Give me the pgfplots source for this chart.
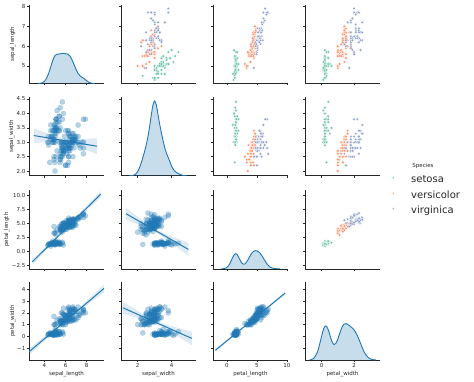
\documentclass[border=0pt]{standalone}
\usepackage{fontspec}
\setmainfont{DejaVu Sans}
\usepackage{pgfplots}
\usepackage{pgfplotstable}
\pgfplotsset{compat=1.18}
\definecolor{c0}{HTML}{1F77B4}
\definecolor{cset}{HTML}{66C2A5}
\definecolor{cver}{HTML}{FC8D62}
\definecolor{cvir}{HTML}{8DA0CB}
\definecolor{spine}{HTML}{262626}

\pgfplotstableread{
SL SW PL PW
5.1 3.5 1.4 0.2
4.9 3.0 1.4 0.2
4.7 3.2 1.3 0.2
4.6 3.1 1.5 0.2
5.0 3.6 1.4 0.2
5.4 3.9 1.7 0.4
4.6 3.4 1.4 0.3
5.0 3.4 1.5 0.2
4.4 2.9 1.4 0.2
4.9 3.1 1.5 0.1
5.4 3.7 1.5 0.2
4.8 3.4 1.6 0.2
4.8 3.0 1.4 0.1
4.3 3.0 1.1 0.1
5.8 4.0 1.2 0.2
5.7 4.4 1.5 0.4
5.4 3.9 1.3 0.4
5.1 3.5 1.4 0.3
5.7 3.8 1.7 0.3
5.1 3.8 1.5 0.3
5.4 3.4 1.7 0.2
5.1 3.7 1.5 0.4
4.6 3.6 1.0 0.2
5.1 3.3 1.7 0.5
4.8 3.4 1.9 0.2
5.0 3.0 1.6 0.2
5.0 3.4 1.6 0.4
5.2 3.5 1.5 0.2
5.2 3.4 1.4 0.2
4.7 3.2 1.6 0.2
4.8 3.1 1.6 0.2
5.4 3.4 1.5 0.4
5.2 4.1 1.5 0.1
5.5 4.2 1.4 0.2
4.9 3.1 1.5 0.2
5.0 3.2 1.2 0.2
5.5 3.5 1.3 0.2
4.9 3.6 1.4 0.1
4.4 3.0 1.3 0.2
5.1 3.4 1.5 0.2
5.0 3.5 1.3 0.3
4.5 2.3 1.3 0.3
4.4 3.2 1.3 0.2
5.0 3.5 1.6 0.6
5.1 3.8 1.9 0.4
4.8 3.0 1.4 0.3
5.1 3.8 1.6 0.2
4.6 3.2 1.4 0.2
5.3 3.7 1.5 0.2
5.0 3.3 1.4 0.2
}\setosa

\pgfplotstableread{
SL SW PL PW
7.0 3.2 4.7 1.4
6.4 3.2 4.5 1.5
6.9 3.1 4.9 1.5
5.5 2.3 4.0 1.3
6.5 2.8 4.6 1.5
5.7 2.8 4.5 1.3
6.3 3.3 4.7 1.6
4.9 2.4 3.3 1.0
6.6 2.9 4.6 1.3
5.2 2.7 3.9 1.4
5.0 2.0 3.5 1.0
5.9 3.0 4.2 1.5
6.0 2.2 4.0 1.0
6.1 2.9 4.7 1.4
5.6 2.9 3.6 1.3
6.7 3.1 4.4 1.4
5.6 3.0 4.5 1.5
5.8 2.7 4.1 1.0
6.2 2.2 4.5 1.5
5.6 2.5 3.9 1.1
5.9 3.2 4.8 1.8
6.1 2.8 4.0 1.3
6.3 2.5 4.9 1.5
6.1 2.8 4.7 1.2
6.4 2.9 4.3 1.3
6.6 3.0 4.4 1.4
6.8 2.8 4.8 1.4
6.7 3.0 5.0 1.7
6.0 2.9 4.5 1.5
5.7 2.6 3.5 1.0
5.5 2.4 3.8 1.1
5.5 2.4 3.7 1.0
5.8 2.7 3.9 1.2
6.0 2.7 5.1 1.6
5.4 3.0 4.5 1.5
6.0 3.4 4.5 1.6
6.7 3.1 4.7 1.5
6.3 2.3 4.4 1.3
5.6 3.0 4.1 1.3
5.5 2.5 4.0 1.3
5.5 2.6 4.4 1.2
6.1 3.0 4.6 1.4
5.8 2.6 4.0 1.2
5.0 2.3 3.3 1.0
5.6 2.7 4.2 1.3
5.7 3.0 4.2 1.2
5.7 2.9 4.2 1.3
6.2 2.9 4.3 1.3
5.1 2.5 3.0 1.1
5.7 2.8 4.1 1.3
}\versicolor

\pgfplotstableread{
SL SW PL PW
6.3 3.3 6.0 2.5
5.8 2.7 5.1 1.9
7.1 3.0 5.9 2.1
6.3 2.9 5.6 1.8
6.5 3.0 5.8 2.2
7.6 3.0 6.6 2.1
4.9 2.5 4.5 1.7
7.3 2.9 6.3 1.8
6.7 2.5 5.8 1.8
7.2 3.6 6.1 2.5
6.5 3.2 5.1 2.0
6.4 2.7 5.3 1.9
6.8 3.0 5.5 2.1
5.7 2.5 5.0 2.0
5.8 2.8 5.1 2.4
6.4 3.2 5.3 2.3
6.5 3.0 5.5 1.8
7.7 3.8 6.7 2.2
7.7 2.6 6.9 2.3
6.0 2.2 5.0 1.5
6.9 3.2 5.7 2.3
5.6 2.8 4.9 2.0
7.7 2.8 6.7 2.0
6.3 2.7 4.9 1.8
6.7 3.3 5.7 2.1
7.2 3.2 6.0 1.8
6.2 2.8 4.8 1.8
6.1 3.0 4.9 1.8
6.4 2.8 5.6 2.1
7.2 3.0 5.8 1.6
7.4 2.8 6.1 1.9
7.9 3.8 6.4 2.0
6.4 2.8 5.6 2.2
6.3 2.8 5.1 1.5
6.1 2.6 5.6 1.4
7.7 3.0 6.1 2.3
6.3 3.4 5.6 2.4
6.4 3.1 5.5 1.8
6.0 3.0 4.8 1.8
6.9 3.1 5.4 2.1
6.7 3.1 5.6 2.4
6.9 3.1 5.1 2.3
5.8 2.7 5.1 1.9
6.8 3.2 5.9 2.3
6.7 3.3 5.7 2.5
6.7 3.0 5.2 2.3
6.3 2.5 5.0 1.9
6.5 3.0 5.2 2.0
6.2 3.4 5.4 2.3
5.9 3.0 5.1 1.8
}\virginica

% kernel density estimates (x, density)
\pgfplotstableread{
x d
3.39 0.0002
3.6 0.0020
3.8 0.0082
4.0 0.0275
4.2 0.0679
4.4 0.1333
4.6 0.2195
4.8 0.3048
5.0 0.3657
5.2 0.3832
5.4 0.3856
5.6 0.3918
5.8 0.3939
6.0 0.3899
6.2 0.3847
6.4 0.3633
6.6 0.3137
6.8 0.2521
7.0 0.1831
7.2 0.1298
7.4 0.0973
7.6 0.0785
7.8 0.0597
8.0 0.0363
8.2 0.0162
8.4 0.0051
8.6 0.0011
8.81 0.0001
}\kdesl

\pgfplotstableread{
x d
1.52 0.0002
1.6 0.0008
1.7 0.0033
1.8 0.0104
1.9 0.0257
2.0 0.054
2.1 0.100
2.2 0.163
2.3 0.235
2.4 0.313
2.5 0.401
2.6 0.508
2.7 0.642
2.8 0.795
2.9 0.929
3.0 0.982
3.1 0.925
3.2 0.798
3.3 0.669
3.4 0.558
3.5 0.454
3.6 0.361
3.7 0.292
3.8 0.237
3.9 0.180
4.0 0.124
4.1 0.082
4.2 0.056
4.3 0.040
4.4 0.028
4.5 0.017
4.6 0.0085
4.7 0.003
4.8 0.0007
4.88 0.0002
}\kdesw

\pgfplotstableread{
x d
-0.94 0.0003
-0.5 0.0028
-0.25 0.0076
0.0 0.0185
0.25 0.039
0.5 0.071
0.75 0.113
1.0 0.157
1.25 0.189
1.5 0.199
1.75 0.182
2.0 0.147
2.25 0.106
2.5 0.075
2.75 0.060
3.0 0.064
3.25 0.085
3.5 0.116
3.75 0.153
4.0 0.188
4.25 0.215
4.5 0.232
4.75 0.238
5.0 0.235
5.25 0.224
5.5 0.206
5.75 0.182
6.0 0.152
6.25 0.119
6.5 0.087
6.75 0.059
7.0 0.037
7.25 0.021
7.5 0.011
7.75 0.0055
8.0 0.0025
8.5 0.0004
8.84 0.0000
}\kdepl

\pgfplotstableread{
x d
-0.74 0.0019
-0.5 0.0198
-0.25 0.1124
0.0 0.317
0.125 0.411
0.25 0.448
0.375 0.414
0.5 0.332
0.625 0.248
0.75 0.204
0.875 0.217
1.0 0.276
1.125 0.357
1.25 0.428
1.375 0.469
1.5 0.479
1.625 0.466
1.75 0.445
1.875 0.423
2.0 0.395
2.125 0.354
2.25 0.298
2.375 0.232
2.5 0.164
2.625 0.1055
2.75 0.0616
2.875 0.0325
3.0 0.0155
3.125 0.0067
3.25 0.0026
3.34 0.0012
}\kdepw

\pgfplotsset{
  pp/.style={scale only axis, width=75pt, height=78.4pt, anchor=south west,
    axis x line*=bottom, axis y line*=left,
    axis line style={-, draw=spine, line width=0.45pt},
    tick align=outside, major tick length=2pt,
    tick style={draw=spine, line width=0.45pt},
    tick label style={font=\fontsize{5.5}{6}\selectfont, text=spine, inner sep=1.5pt},
    every axis x label/.style={at={(axis description cs:0.5,-0.1786)}, anchor=center,
      font=\fontsize{5.5}{6}\selectfont, text=spine},
    enlargelimits=false, xticklabels={}, yticklabels={}},
  ylab/.style={every axis y label/.style={at={(axis description cs:#1,0.5)}, rotate=90, anchor=center,
      font=\fontsize{5.5}{6}\selectfont, text=spine}},
  kde/.style={scale only axis, width=75pt, height=78.4pt, anchor=south west,
    hide axis, ymin=0, ymax=1.03, enlargelimits=false},
  c1/.style={xmin=2.53, xmax=9.66, xtick={4,6,8}},
  c2/.style={xmin=1.02, xmax=5.43, xtick={2,4}},
  c3/.style={xmin=-2.33, xmax=10.2, xtick={0,5,10}},
  c4/.style={xmin=-1.03, xmax=3.6, xtick={0,2}},
  r1/.style={ymin=4.12, ymax=8.08, ytick={5,6,7,8}},
  r2/.style={ymin=1.84, ymax=4.56, ytick={2,2.5,3,3.5,4,4.5}},
  r3/.style={ymin=-3.05, ymax=10.95, ytick={-2.5,0,2.5,5,7.5,10}},
  r4/.style={ymin=-1.99, ymax=4.65, ytick={-1,0,1,2,3,4}},
  up/.style={only marks, mark=*, mark size=1.5pt, forget plot,
    mark options={draw=white, line width=0.25pt, fill=#1}},
  rg/.style={only marks, mark=*, color=c0, mark size=2.6pt, forget plot,
    mark options={draw=c0, fill=c0, fill opacity=0.33, draw opacity=0.33, line width=0.2pt}},
  band/.style={fill=c0, fill opacity=0.15, draw=none, forget plot},
  rline/.style={c0, line width=1pt, forget plot},
  kfill/.style={fill=c0, fill opacity=0.25, draw=none, smooth, forget plot},
  kline/.style={c0, line width=0.9pt, smooth, forget plot},
}

\begin{document}
\begin{tikzpicture}
\useasboundingbox (0,0) rectangle (474pt,381pt);

% ---------------- row 1 ----------------
\begin{axis}[pp, c1, r1, at={(29pt,297.6pt)}, yticklabels={5,6,7,8}, ylab=-0.217, ylabel={sepal\_length}]
\end{axis}
\begin{axis}[kde, c1, at={(29pt,297.6pt)}]
\addplot[kfill] table[x=x,y=d] {\kdesl} \closedcycle;
\addplot[kline] table[x=x,y=d] {\kdesl};
\end{axis}

\begin{axis}[pp, c2, r1, at={(121pt,297.6pt)}]
\addplot[up=cset] table[x=SW,y=SL] {\setosa};
\addplot[up=cver] table[x=SW,y=SL] {\versicolor};
\addplot[up=cvir] table[x=SW,y=SL] {\virginica};
\end{axis}

\begin{axis}[pp, c3, r1, at={(213pt,297.6pt)}]
\addplot[up=cset] table[x=PL,y=SL] {\setosa};
\addplot[up=cver] table[x=PL,y=SL] {\versicolor};
\addplot[up=cvir] table[x=PL,y=SL] {\virginica};
\end{axis}

\begin{axis}[pp, c4, r1, at={(305pt,297.6pt)},
  legend style={at={(axis description cs:1.16,-1.1716)}, anchor=north west,
    draw=none, fill=none, inner sep=0pt, font=\fontsize{10}{12}\selectfont,
    row sep=5.5pt, nodes={inner sep=0pt, text height=7.5pt, text depth=2.5pt, text=spine},
    /tikz/every odd column/.append style={column sep=17pt}},
  legend cell align=left,
  legend image code/.code={\draw[#1] plot coordinates {(1pt,2.8pt)};}]
\addplot[up=cset] table[x=PW,y=SL] {\setosa};
\addplot[up=cver] table[x=PW,y=SL] {\versicolor};
\addplot[up=cvir] table[x=PW,y=SL] {\virginica};
\addlegendimage{only marks, mark=*, mark size=1pt, mark options={draw=white, line width=0.1pt, fill=cset}}
\addlegendentry{setosa}
\addlegendimage{only marks, mark=*, mark size=1pt, mark options={draw=white, line width=0.1pt, fill=cver}}
\addlegendentry{versicolor}
\addlegendimage{only marks, mark=*, mark size=1pt, mark options={draw=white, line width=0.1pt, fill=cvir}}
\addlegendentry{virginica}
\end{axis}

% ---------------- row 2 ----------------
\begin{axis}[pp, c1, r2, at={(29pt,205.3pt)}, yticklabels={2.0,2.5,3.0,3.5,4.0,4.5}, ylab=-0.231, ylabel={sepal\_width}]
\addplot[rg] table[x=SL,y=SW] {\setosa};
\addplot[rg] table[x=SL,y=SW] {\versicolor};
\addplot[rg] table[x=SL,y=SW] {\virginica};
\addplot[band] coordinates {(3.0,2.983) (4.42,3.006) (5.843,2.988) (7.42,2.809) (9.0,2.586) (9.0,3.138) (7.42,3.110) (5.843,3.127) (4.42,3.284) (3.0,3.484)} -- cycle;
\addplot[rline] coordinates {(3.0,3.2333) (9.0,2.862)};
\end{axis}

\begin{axis}[pp, c2, r2, at={(121pt,205.3pt)}]
\end{axis}
\begin{axis}[kde, c2, at={(121pt,205.3pt)}]
\addplot[kfill] table[x=x,y=d] {\kdesw} \closedcycle;
\addplot[kline] table[x=x,y=d] {\kdesw};
\end{axis}

\begin{axis}[pp, c3, r2, at={(213pt,205.3pt)}]
\addplot[up=cset] table[x=PL,y=SW] {\setosa};
\addplot[up=cver] table[x=PL,y=SW] {\versicolor};
\addplot[up=cvir] table[x=PL,y=SW] {\virginica};
\end{axis}

\begin{axis}[pp, c4, r2, at={(305pt,205.3pt)}]
\addplot[up=cset] table[x=PW,y=SW] {\setosa};
\addplot[up=cver] table[x=PW,y=SW] {\versicolor};
\addplot[up=cvir] table[x=PW,y=SW] {\virginica};
\end{axis}

% ---------------- row 3 ----------------
\begin{axis}[pp, c1, r3, at={(29pt,112.2pt)}, yticklabels={−2.5,0.0,2.5,5.0,7.5,10.0}, ylab=-0.297, ylabel={petal\_length}]
\addplot[rg] table[x=SL,y=PL] {\setosa};
\addplot[rg] table[x=SL,y=PL] {\versicolor};
\addplot[rg] table[x=SL,y=PL] {\virginica};
\addplot[band] coordinates {(2.85,-2.33) (4.35,0.695) (5.843,3.618) (7.6,6.695) (9.34,9.649) (9.34,10.864) (7.6,7.351) (5.843,3.897) (4.35,1.271) (2.85,-1.28)} -- cycle;
\addplot[rline] coordinates {(2.85,-1.8046) (9.34,10.2565)};
\end{axis}

\begin{axis}[pp, c2, r3, at={(121pt,112.2pt)}]
\addplot[rg] table[x=SW,y=PL] {\setosa};
\addplot[rg] table[x=SW,y=PL] {\versicolor};
\addplot[rg] table[x=SW,y=PL] {\virginica};
\addplot[band] coordinates {(1.31,5.723) (2.18,4.700) (3.057,3.501) (4.02,1.461) (4.98,-0.745) (4.98,1.589) (4.02,2.713) (3.057,4.015) (2.18,5.860) (1.31,7.855)} -- cycle;
\addplot[rline] coordinates {(1.31,6.789) (4.98,0.4219)};
\end{axis}

\begin{axis}[pp, c3, r3, at={(213pt,112.2pt)}]
\end{axis}
\begin{axis}[kde, c3, at={(213pt,112.2pt)}]
\addplot[kfill] table[x=x,y=d] {\kdepl} \closedcycle;
\addplot[kline] table[x=x,y=d] {\kdepl};
\end{axis}

\begin{axis}[pp, c4, r3, at={(305pt,112.2pt)}]
\addplot[up=cset] table[x=PW,y=PL] {\setosa};
\addplot[up=cver] table[x=PW,y=PL] {\versicolor};
\addplot[up=cvir] table[x=PW,y=PL] {\virginica};
\end{axis}

% ---------------- row 4 ----------------
\begin{axis}[pp, c1, r4, at={(29pt,21pt)}, yticklabels={−1,0,1,2,3,4}, ylab=-0.217, ylabel={petal\_width},
  xticklabels={4,6,8}, xlabel={sepal\_length}]
\addplot[rg] table[x=SL,y=PW] {\setosa};
\addplot[rg] table[x=SL,y=PW] {\versicolor};
\addplot[rg] table[x=SL,y=PW] {\virginica};
\addplot[band] coordinates {(2.53,-1.588) (4.19,-0.204) (5.843,1.128) (7.75,2.456) (9.66,3.737) (9.66,4.407) (7.75,2.812) (5.843,1.269) (4.19,0.112) (2.53,-1.003)} -- cycle;
\addplot[rline] coordinates {(2.53,-1.2954) (9.66,4.0720)};
\end{axis}

\begin{axis}[pp, c2, r4, at={(121pt,21pt)}, xticklabels={2,4}, xlabel={sepal\_width}]
\addplot[rg] table[x=SW,y=PW] {\setosa};
\addplot[rg] table[x=SW,y=PW] {\versicolor};
\addplot[rg] table[x=SW,y=PW] {\virginica};
\addplot[band] coordinates {(1.12,1.916) (2.09,1.539) (3.057,1.084) (4.12,0.216) (5.18,-0.731) (5.18,0.411) (4.12,0.821) (3.057,1.313) (2.09,2.097) (1.12,2.962)} -- cycle;
\addplot[rline] coordinates {(1.12,2.4390) (5.18,-0.1602)};
\end{axis}

\begin{axis}[pp, c3, r4, at={(213pt,21pt)}, xticklabels={0,5,10}, xlabel={petal\_length}]
\addplot[rg] table[x=PL,y=PW] {\setosa};
\addplot[rg] table[x=PL,y=PW] {\versicolor};
\addplot[rg] table[x=PL,y=PW] {\virginica};
\addplot[band] coordinates {(-1.94,-1.283) (0.9,-0.053) (3.758,1.166) (6.74,2.374) (9.72,3.561) (9.72,3.795) (6.74,2.504) (3.758,1.232) (0.9,0.074) (-1.94,-1.058)} -- cycle;
\addplot[rline] coordinates {(-1.94,-1.1701) (9.72,3.6781)};
\end{axis}

\begin{axis}[pp, c4, r4, at={(305pt,21pt)}, xticklabels={0,2}, xlabel={petal\_width}]
\end{axis}
\begin{axis}[kde, c4, at={(305pt,21pt)}]
\addplot[kfill] table[x=x,y=d] {\kdepw} \closedcycle;
\addplot[kline] table[x=x,y=d] {\kdepw};
\end{axis}

\node[font=\fontsize{5.5}{6}\selectfont, text=spine] at (423pt,215pt) {Species};
\end{tikzpicture}
\end{document}
